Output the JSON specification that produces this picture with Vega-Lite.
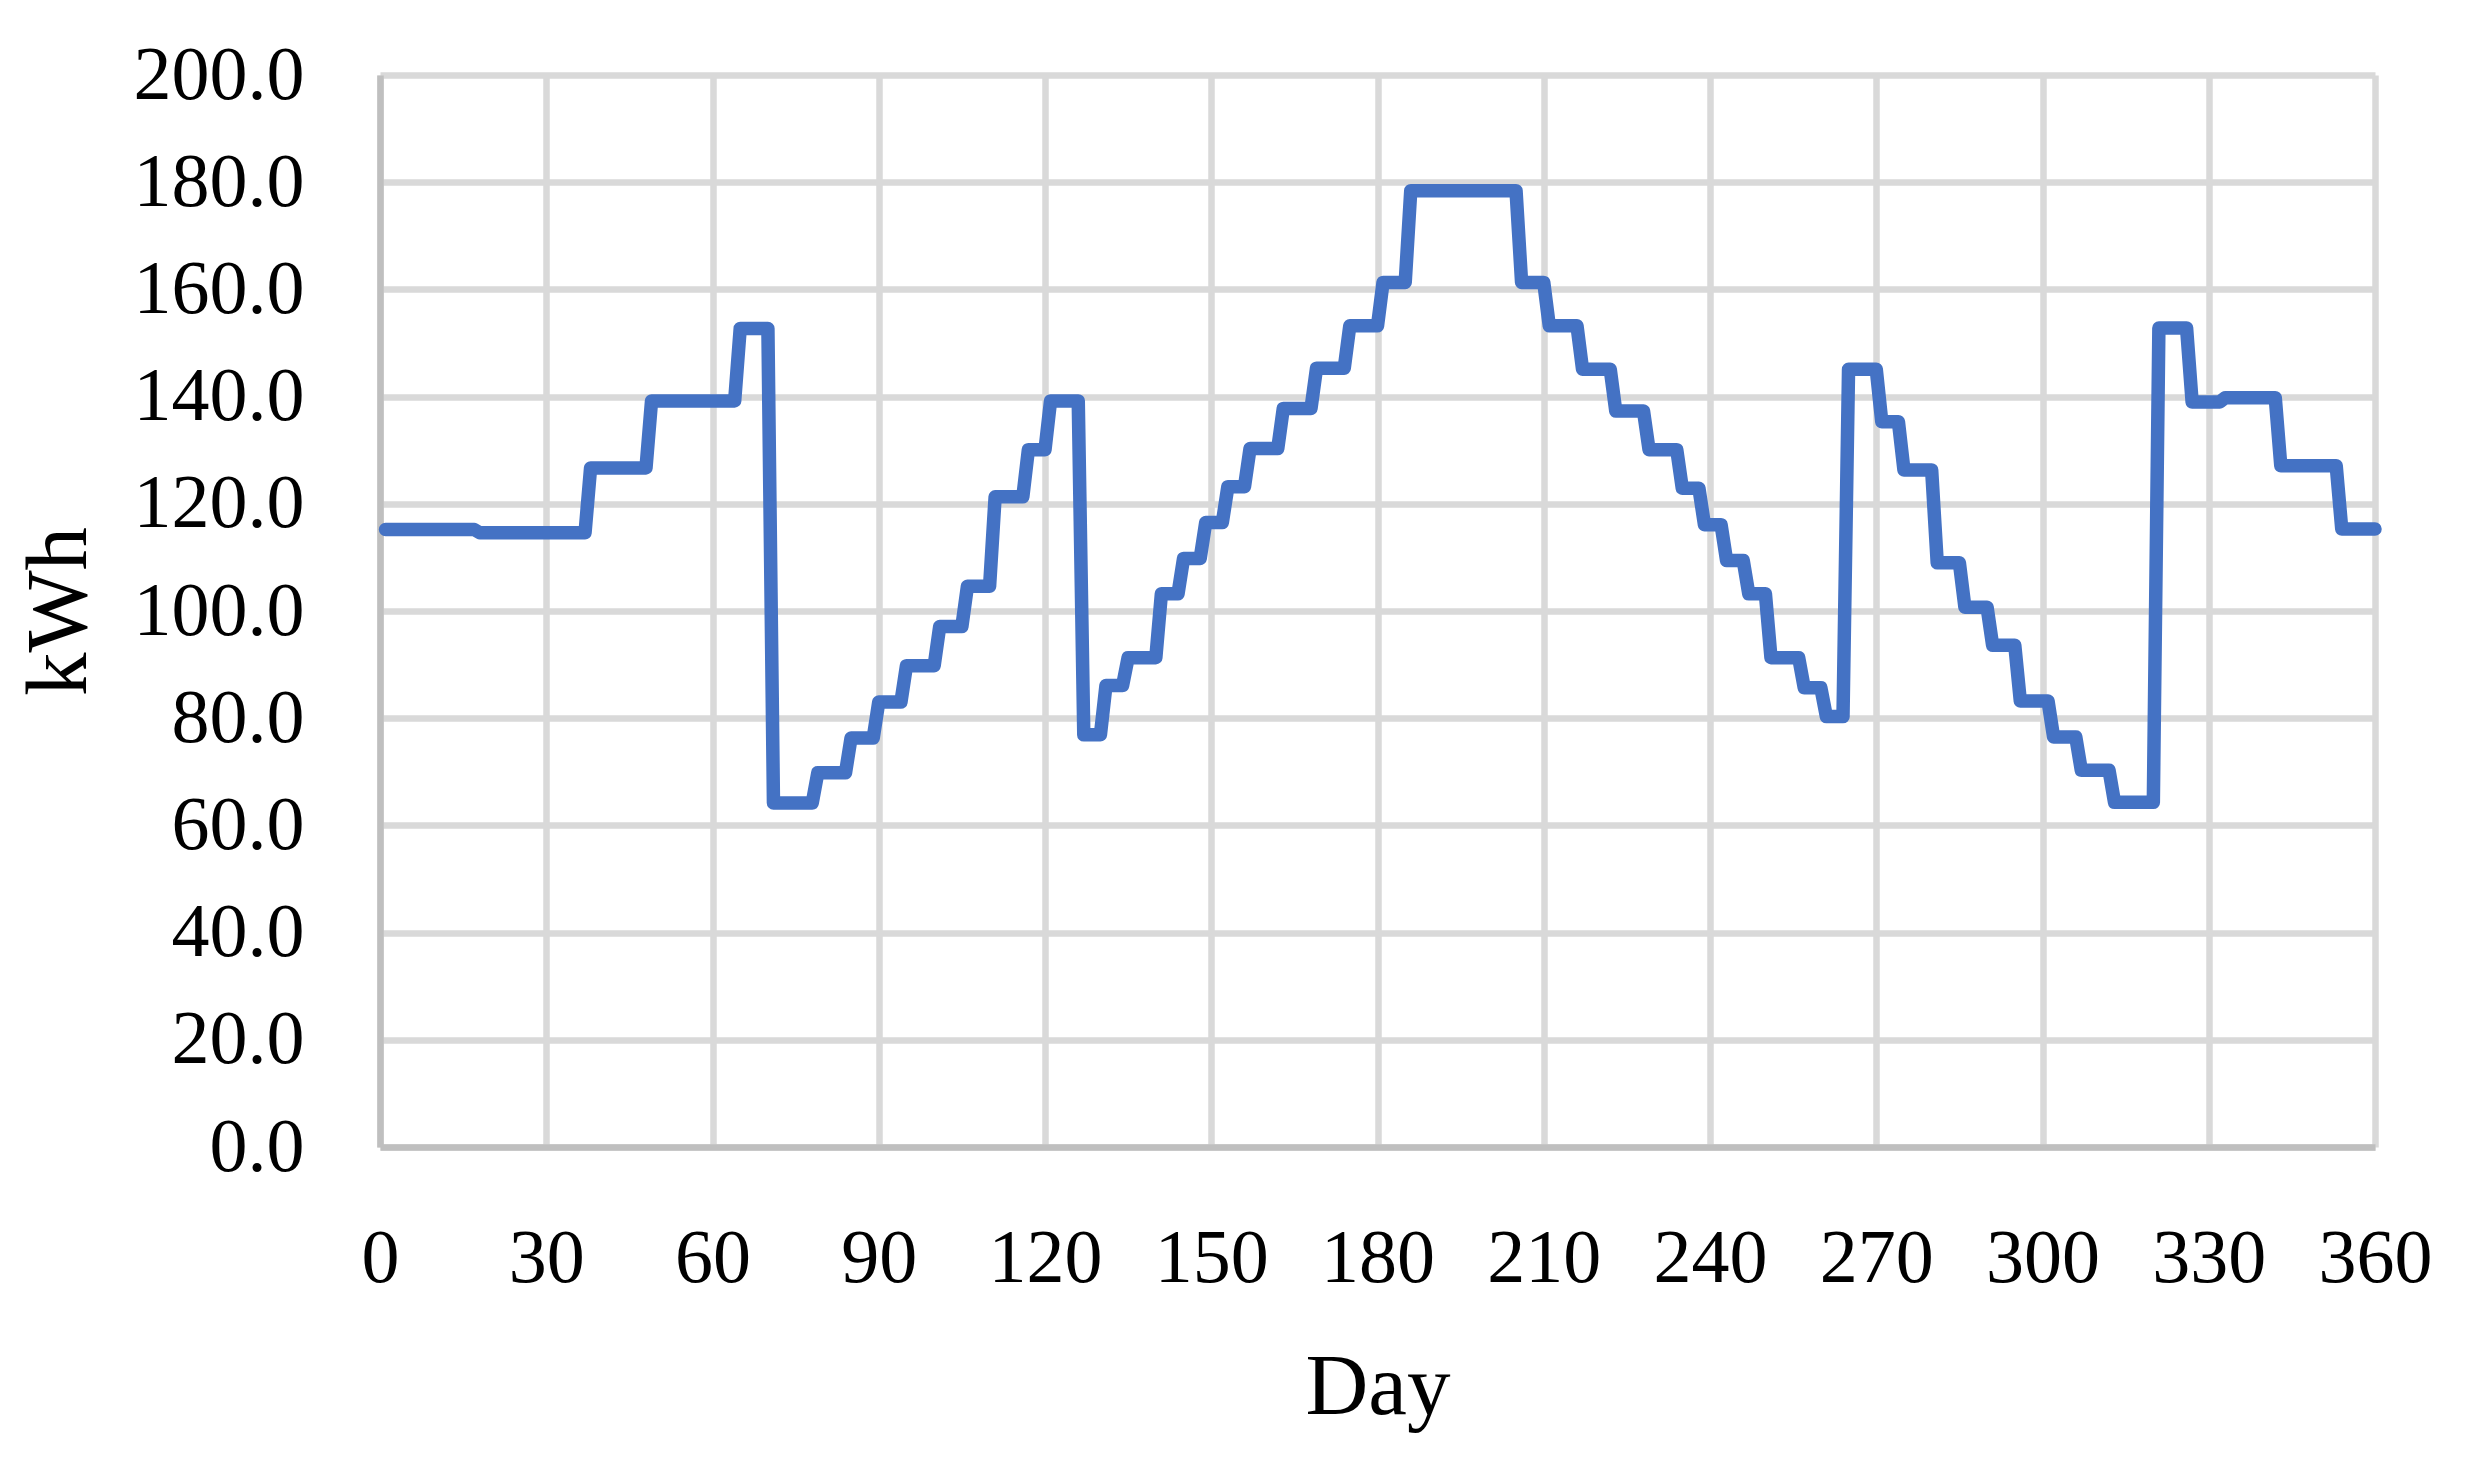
{
  "$schema": "https://vega.github.io/schema/vega-lite/v6.json",
  "width": 1995,
  "height": 1072,
  "autosize": {"type": "none"},
  "padding": {"left": 380, "top": 75, "right": 91, "bottom": 312},
  "background": "white",
  "config": {"view": {"stroke": null}},
  "data": {"values": [
    {"day": 1, "kWh": 115.2}, {"day": 17, "kWh": 115.2}, {"day": 18, "kWh": 114.6}, {"day": 37, "kWh": 114.6},
    {"day": 38, "kWh": 126.7}, {"day": 48, "kWh": 126.7}, {"day": 49, "kWh": 139.2}, {"day": 64, "kWh": 139.2},
    {"day": 65, "kWh": 152.7}, {"day": 70, "kWh": 152.7}, {"day": 71, "kWh": 64.2}, {"day": 78, "kWh": 64.2},
    {"day": 79, "kWh": 69.8}, {"day": 84, "kWh": 69.8}, {"day": 85, "kWh": 76.3}, {"day": 89, "kWh": 76.3},
    {"day": 90, "kWh": 83.0}, {"day": 94, "kWh": 83.0}, {"day": 95, "kWh": 89.8}, {"day": 100, "kWh": 89.8},
    {"day": 101, "kWh": 97.1}, {"day": 105, "kWh": 97.1}, {"day": 106, "kWh": 104.6}, {"day": 110, "kWh": 104.6},
    {"day": 111, "kWh": 121.3}, {"day": 116, "kWh": 121.3}, {"day": 117, "kWh": 130.1}, {"day": 120, "kWh": 130.1},
    {"day": 121, "kWh": 139.2}, {"day": 126, "kWh": 139.2}, {"day": 127, "kWh": 76.9}, {"day": 130, "kWh": 76.9},
    {"day": 131, "kWh": 86.1}, {"day": 134, "kWh": 86.1}, {"day": 135, "kWh": 91.3}, {"day": 140, "kWh": 91.3},
    {"day": 141, "kWh": 103.2}, {"day": 144, "kWh": 103.2}, {"day": 145, "kWh": 109.8}, {"day": 148, "kWh": 109.8},
    {"day": 149, "kWh": 116.5}, {"day": 152, "kWh": 116.5}, {"day": 153, "kWh": 123.2}, {"day": 156, "kWh": 123.2},
    {"day": 157, "kWh": 130.3}, {"day": 162, "kWh": 130.3}, {"day": 163, "kWh": 137.8}, {"day": 168, "kWh": 137.8},
    {"day": 169, "kWh": 145.3}, {"day": 174, "kWh": 145.3}, {"day": 175, "kWh": 153.2}, {"day": 180, "kWh": 153.2},
    {"day": 181, "kWh": 161.3}, {"day": 185, "kWh": 161.3}, {"day": 186, "kWh": 178.4}, {"day": 205, "kWh": 178.4},
    {"day": 206, "kWh": 161.3}, {"day": 210, "kWh": 161.3}, {"day": 211, "kWh": 153.2}, {"day": 216, "kWh": 153.2},
    {"day": 217, "kWh": 145.1}, {"day": 222, "kWh": 145.1}, {"day": 223, "kWh": 137.3}, {"day": 228, "kWh": 137.3},
    {"day": 229, "kWh": 130.1}, {"day": 234, "kWh": 130.1}, {"day": 235, "kWh": 122.9}, {"day": 238, "kWh": 122.9},
    {"day": 239, "kWh": 116.1}, {"day": 242, "kWh": 116.1}, {"day": 243, "kWh": 109.4}, {"day": 246, "kWh": 109.4},
    {"day": 247, "kWh": 103.2}, {"day": 250, "kWh": 103.2}, {"day": 251, "kWh": 91.3}, {"day": 256, "kWh": 91.3},
    {"day": 257, "kWh": 85.7}, {"day": 260, "kWh": 85.7}, {"day": 261, "kWh": 80.3}, {"day": 264, "kWh": 80.3},
    {"day": 265, "kWh": 145.1}, {"day": 270, "kWh": 145.1}, {"day": 271, "kWh": 135.3}, {"day": 274, "kWh": 135.3},
    {"day": 275, "kWh": 126.3}, {"day": 280, "kWh": 126.3}, {"day": 281, "kWh": 109.0}, {"day": 285, "kWh": 109.0},
    {"day": 286, "kWh": 100.7}, {"day": 290, "kWh": 100.7}, {"day": 291, "kWh": 93.6}, {"day": 295, "kWh": 93.6},
    {"day": 296, "kWh": 83.2}, {"day": 301, "kWh": 83.2}, {"day": 302, "kWh": 76.5}, {"day": 306, "kWh": 76.5},
    {"day": 307, "kWh": 70.3}, {"day": 312, "kWh": 70.3}, {"day": 313, "kWh": 64.3}, {"day": 320, "kWh": 64.3},
    {"day": 321, "kWh": 152.8}, {"day": 326, "kWh": 152.8}, {"day": 327, "kWh": 139.0}, {"day": 332, "kWh": 139.0},
    {"day": 333, "kWh": 139.8}, {"day": 342, "kWh": 139.8}, {"day": 343, "kWh": 127.1}, {"day": 353, "kWh": 127.1},
    {"day": 354, "kWh": 115.3}, {"day": 360, "kWh": 115.3}
  ]},
  "mark": {"type": "line", "color": "#4472C4", "strokeWidth": 13.5, "strokeJoin": "round", "strokeCap": "round"},
  "encoding": {
    "x": {
      "field": "day", "type": "quantitative",
      "scale": {"domain": [0, 360], "nice": false, "zero": false},
      "axis": {
        "values": [0, 30, 60, 90, 120, 150, 180, 210, 240, 270, 300, 330, 360],
        "grid": true, "gridColor": "#D9D9D9", "gridWidth": 6.5,
        "domainColor": "#BFBFBF", "domainWidth": 6.5,
        "ticks": false, "tickSize": 0,
        "labelFont": "Liberation Serif", "labelFontSize": 76, "labelColor": "#000000",
        "labelPadding": 74, "labelFlush": false, "labelOverlap": false,
        "title": "Day", "titleFont": "Liberation Serif", "titleFontSize": 87, "titleFontWeight": "normal",
        "titleColor": "#000000", "titleX": 997.5, "titleY": 266, "titleBaseline": "alphabetic", "titleAlign": "center"
      }
    },
    "y": {
      "field": "kWh", "type": "quantitative",
      "scale": {"domain": [0, 200], "nice": false},
      "axis": {
        "values": [0, 20, 40, 60, 80, 100, 120, 140, 160, 180, 200],
        "format": ".1f",
        "grid": true, "gridColor": "#D9D9D9", "gridWidth": 6.5,
        "domainColor": "#BFBFBF", "domainWidth": 6.5,
        "ticks": false, "tickSize": 0,
        "labelFont": "Liberation Serif", "labelFontSize": 76, "labelColor": "#000000",
        "labelPadding": 76, "labelFlush": false, "labelOverlap": false,
        "title": "kWh", "titleFont": "Liberation Serif", "titleFontSize": 87, "titleFontWeight": "normal",
        "titleColor": "#000000", "titleX": -295, "titleY": 536, "titleAngle": 270,
        "titleBaseline": "alphabetic", "titleAlign": "center"
      }
    }
  }
}
